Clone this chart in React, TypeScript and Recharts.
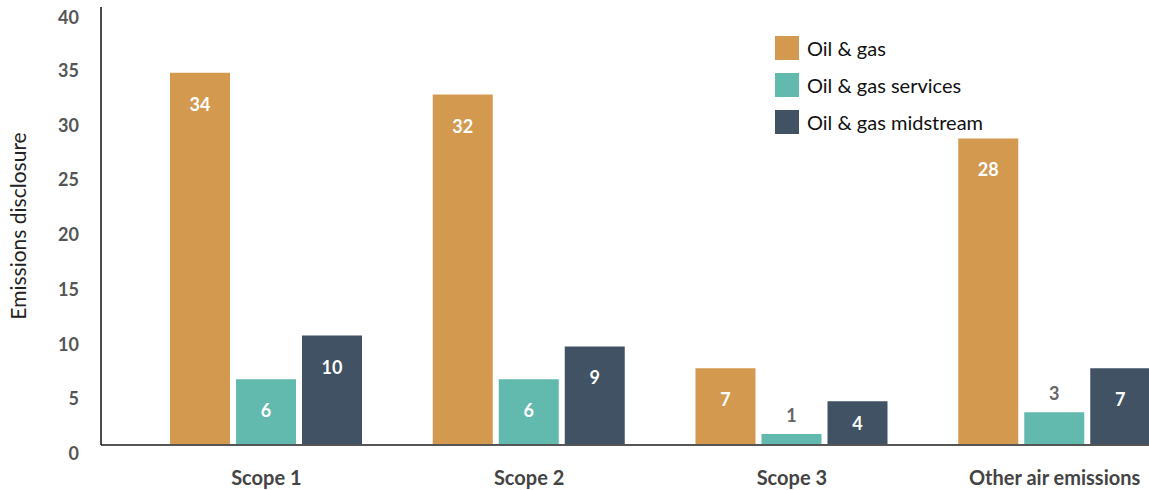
import React from "react";
import { BarChart, Bar, XAxis, YAxis, LabelList } from "recharts";

const categories = ["Scope 1", "Scope 2", "Scope 3", "Other air emissions"];
const oilGas = [34, 32, 7, 28];
const oilGasServices = [6, 6, 1, 3];
const oilGasMidstream = [10, 9, 4, 7];
const yTicks = [0, 5, 10, 15, 20, 25, 30, 35, 40];
const seriesNames = ["Oil & gas", "Oil & gas services", "Oil & gas midstream"];
const seriesColors = ["#D3994F", "#62B9AE", "#405263"];

const data = categories.map((c, i) => ({
  name: c,
  a: oilGas[i],
  b: oilGasServices[i],
  c: oilGasMidstream[i],
}));

const FONT = "Lato, 'Noto Sans', sans-serif";

const renderLabel = (props: any) => {
  const { x, y, width, height, value } = props;
  const cx = Number(x) + Number(width) / 2;
  const top = Number(y);
  const h = Number(height);
  if (value < 3.5) {
    return (
      <text x={cx} y={top - 19} textAnchor="middle" dominantBaseline="central" fill="#666" fontSize={18} fontWeight={700} fontFamily={FONT}>
        {value}
      </text>
    );
  }
  const ly = Math.min(top + 31, top + h / 2);
  return (
    <text x={cx} y={ly} textAnchor="middle" dominantBaseline="central" fill="#fff" fontSize={18} fontWeight={700} fontFamily={FONT}>
      {value}
    </text>
  );
};

const YTick = (props: any) => {
  const { x, y, payload } = props;
  return (
    <text x={x} y={y + 8} textAnchor="end" dominantBaseline="central" fill="#555" fontSize={18} fontWeight={700} fontFamily={FONT}>
      {payload.value}
    </text>
  );
};

const XTick = (props: any) => {
  const { x, payload } = props;
  return (
    <text x={x} y={477} textAnchor="middle" dominantBaseline="central" fill="#444" fontSize={20} fontWeight={700} fontFamily={FONT}>
      {payload.value}
    </text>
  );
};

const LegendBox = () => (
  <div style={{ position: "absolute", left: 775, top: 29, fontFamily: FONT }}>
    {seriesNames.map((n, i) => (
      <div key={n} style={{ display: "flex", alignItems: "center", height: 37 }}>
        <div style={{ width: 24, height: 24, background: seriesColors[i], marginRight: 8 }} />
        <span style={{ fontSize: 20, color: "#111" }}>{n}</span>
      </div>
    ))}
  </div>
);

export default function App() {
  return (
    <div style={{ position: "absolute", left: 0, top: 0, width: 1149, height: 490, overflow: "hidden", background: "#fff" }}>
      <BarChart
        width={1186}
        height={490}
        data={data}
        margin={{ top: 7, right: 0, bottom: 0, left: 0 }}
        barSize={60}
        barGap={6}
      >
        <XAxis
          dataKey="name"
          height={45}
          padding={{ left: 34, right: 0 }}
          tickLine={false}
          axisLine={{ stroke: "#555", strokeWidth: 2 }}
          tick={<XTick />}
          interval={0}
        />
        <YAxis
          width={101}
          domain={[0, 40]}
          ticks={yTicks}
          tickLine={false}
          tickMargin={16}
          axisLine={{ stroke: "#111", strokeWidth: 1.5 }}
          tick={<YTick />}
          label={{
            value: "Emissions disclosure",
            angle: -90,
            position: "insideLeft",
            offset: 0,
            style: { fontFamily: FONT, fontSize: 21, fill: "#222", textAnchor: "middle" },
            dx: 19,
          }}
        />
        <Bar dataKey="a" name={seriesNames[0]} fill={seriesColors[0]} isAnimationActive={false}>
          <LabelList dataKey="a" content={renderLabel} />
        </Bar>
        <Bar dataKey="b" name={seriesNames[1]} fill={seriesColors[1]} isAnimationActive={false}>
          <LabelList dataKey="b" content={renderLabel} />
        </Bar>
        <Bar dataKey="c" name={seriesNames[2]} fill={seriesColors[2]} isAnimationActive={false}>
          <LabelList dataKey="c" content={renderLabel} />
        </Bar>
      </BarChart>
      <LegendBox />
    </div>
  );
}
